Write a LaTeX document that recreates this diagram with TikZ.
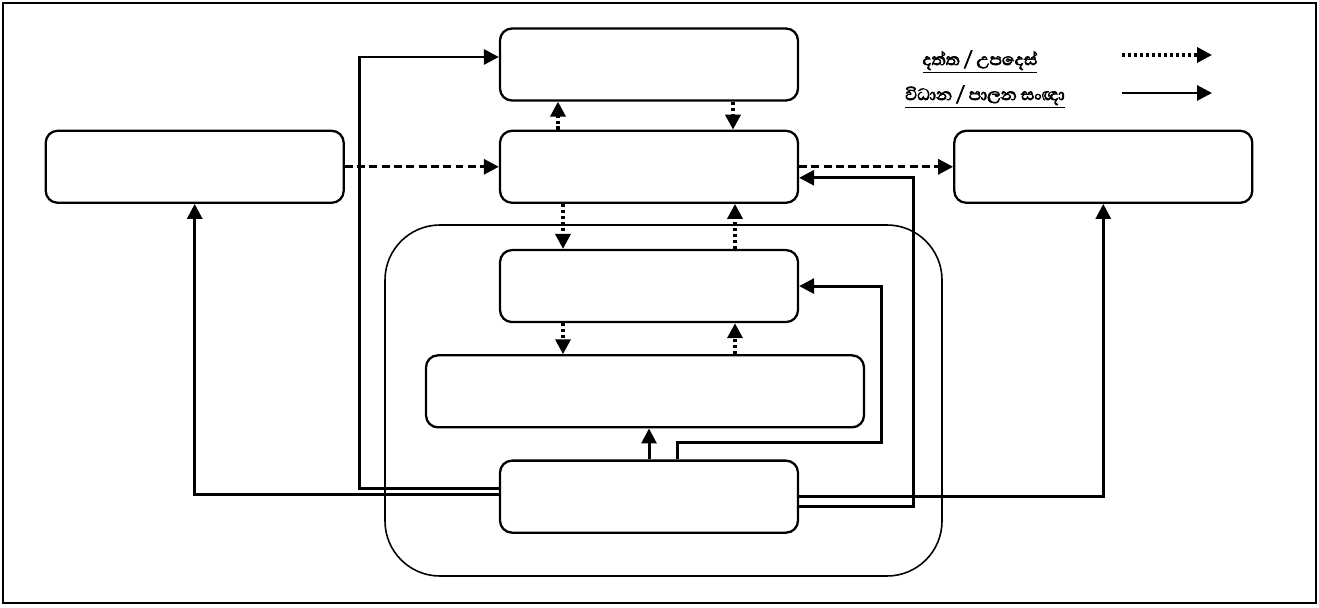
\documentclass[tikz,border=0pt]{standalone}
\usepackage{fontspec}
\usepackage{tikz}
\usetikzlibrary{arrows.meta,positioning}
\newfontfamily\sinfont[Script=Sinhala, FakeBold=3]{Abhaya Libre}

\begin{document}
\begin{tikzpicture}[node distance=1.0cm,
  box/.style={rectangle, draw, rounded corners=0.24cm, line width=1.3pt, minimum height=1.44cm, minimum width=5.96cm},
  group/.style={rectangle, draw, rounded corners=1.1cm, line width=0.9pt},
  ctl/.style={-{Triangle[length=8.5pt, width=8.5pt]}, line width=1.7pt},
  data/.style={-{Triangle[length=8.5pt, width=8.5pt]}, line width=1.7pt, dash pattern=on 4.5pt off 2.5pt},
  info/.style={-{Triangle[length=8.5pt, width=8.5pt]}, line width=2pt, dash pattern=on 1.8pt off 1.6pt},
  legend/.style={font=\sinfont\fontsize{12}{14}\selectfont}]
\useasboundingbox (0,0) rectangle (26.38,12.14);
\draw[line width=1.2pt] (0.06,0.08) rectangle (26.32,12.08);
\node[group, minimum width=11.14cm, minimum height=7.02cm] (grp) at (13.27,4.13) {};
\node[box] (top) at (12.98,10.85) {};
\node[box, below=0.56cm of top] (mid) {};
\node[box, left=3.08cm of mid] (lft) {};
\node[box, right=3.08cm of mid] (rgt) {};
\node[box, below=0.9cm of mid] (upr) {};
\node[box, below=0.62cm of upr, xshift=-0.08cm, minimum width=8.76cm] (wide) {};
\node[box, below=0.62cm of wide, xshift=0.08cm] (base) {};
% legend
\node[legend] (lgdata) at (19.6,10.9) {\underline{දත්ත / උපදෙස්}};
\node[legend] (lgctl) at (19.7,10.2) {\underline{විධාන / පාලන සංඥා}};
\coordinate (d1) at (22.44,11.04); \coordinate (d2) at (24.24,11.04);
\coordinate (c1) at (22.44,10.28); \coordinate (c2) at (24.24,10.28);
\draw[info] (d1) -- (d2);
\draw[ctl] (c1) -- (c2);
% data flows
\draw[data] (lft) -- (mid); \draw[data] (mid) -- (rgt);
\draw[info] ([xshift=-1.82cm]mid.north) -- ([xshift=-1.82cm]top.south);
\draw[info] ([xshift=1.68cm]top.south) -- ([xshift=1.68cm]mid.north);
\draw[info] ([xshift=-1.72cm]mid.south) -- ([xshift=-1.72cm]upr.north);
\draw[info] ([xshift=1.72cm]upr.north) -- ([xshift=1.72cm]mid.south);
\draw[info] ([xshift=-1.72cm]upr.south) -- ([xshift=-1.72cm]upr.south |- wide.north);
\draw[info] ([xshift=1.72cm]upr.south |- wide.north) -- ([xshift=1.72cm]upr.south);
% control lines
\draw[ctl] ([yshift=0.04cm]base.west) -| (lft.south);
\draw[ctl] ([yshift=0.16cm]base.west) -- ++(-2.78,0) |- ([yshift=0.15cm]top.west);
\draw[ctl] (base.north) -- (base.north |- wide.south);
\draw[ctl] ([xshift=0.56cm]base.north) -- ++(0,0.34) -- ++(4.08,0) |- (upr.east);
\draw[ctl] ([yshift=-0.2cm]base.east) -- ++(2.28,0) |- ([yshift=-0.22cm]mid.east);
\draw[ctl] (base.east) -| (rgt.south);
\end{tikzpicture}
\end{document}
